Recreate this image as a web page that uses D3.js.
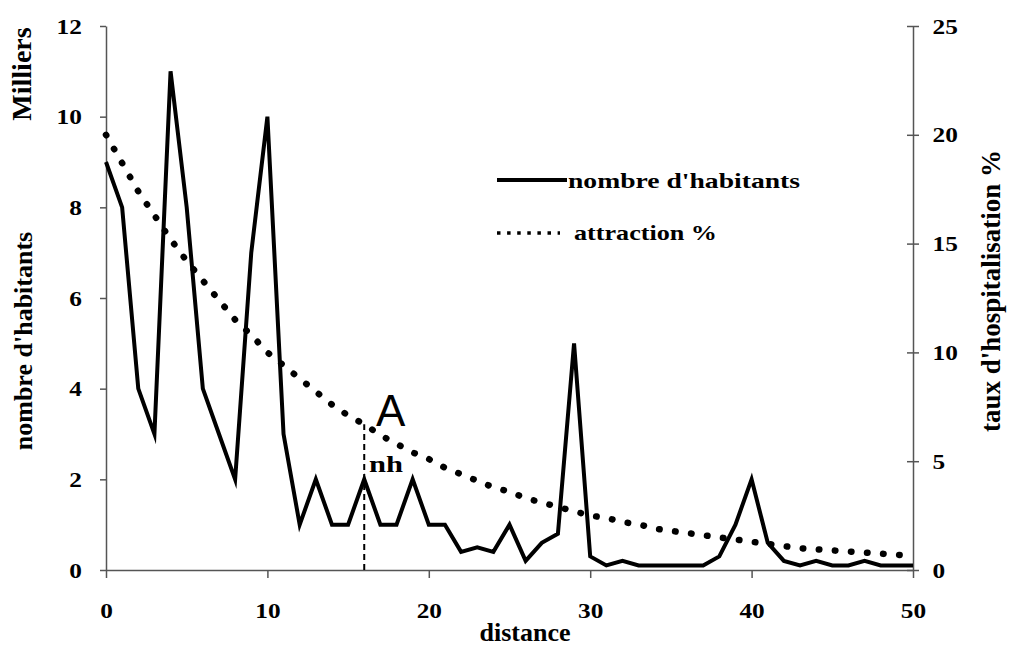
<!DOCTYPE html>
<html><head><meta charset="utf-8">
<script src="https://cdn.jsdelivr.net/npm/d3@7"></script>
<style>body{margin:0;background:#fff}svg{display:block}
.serif{font-family:"Liberation Serif","Times New Roman",serif;font-weight:bold}</style>
</head><body>
<svg id="c" width="1010" height="649"></svg>
<script>
const distance = d3.range(0, 51);
const habitants = [9,8,4,3,11,8,4,3,2,7,10,3,1,2,1,1,2,1,1,2,1,1,0.4,0.5,0.4,1,0.2,0.6,0.8,5,0.3,0.1,0.2,0.1,0.1,0.1,0.1,0.1,0.3,1,2,0.6,0.2,0.1,0.2,0.1,0.1,0.2,0.1,0.1,0.1];
const attraction = [20.0,18.7,17.4,16.3,15.2,14.2,13.3,12.4,11.5,10.8,10.0,9.4,8.8,8.2,7.6,7.1,6.7,6.2,5.8,5.4,5.1,4.7,4.4,4.1,3.8,3.6,3.3,3.1,2.9,2.7,2.5,2.4,2.2,2.1,1.9,1.8,1.7,1.6,1.5,1.4,1.3,1.2,1.1,1.0,0.95,0.9,0.85,0.8,0.75,0.7,0.65];
const xTicks = [0,10,20,30,40,50];
const yLeftTicks = [0,2,4,6,8,10,12];
const yRightTicks = [0,5,10,15,20,25];
const markerX = 16;

const svg = d3.select("#c");
const x = d3.scaleLinear().domain([0,50]).range([106,913]);
const yL = d3.scaleLinear().domain([0,12]).range([570,26]);
const yR = d3.scaleLinear().domain([0,25]).range([570,26]);
const axisColor = "#555";

function styleAxis(g){
  g.attr("font-family", null).attr("font-size", null);
  g.select(".domain").attr("stroke", axisColor).attr("stroke-width", 1.5);
  g.selectAll(".tick line").attr("stroke", axisColor).attr("stroke-width", 1.5);
  g.selectAll(".tick text").attr("class","serif").style("font-size","22px").attr("fill","#000");
}

const gx = svg.append("g").attr("transform","translate(0,570)")
  .call(d3.axisBottom(x).tickValues(xTicks).tickSize(8).tickPadding(24).tickSizeOuter(0));
styleAxis(gx);
gx.selectAll(".tick text").attr("transform","scale(1.15,1)");

const gl = svg.append("g").attr("transform","translate(106,0)")
  .call(d3.axisLeft(yL).tickValues(yLeftTicks).tickSize(6).tickPadding(15).tickSizeOuter(0));
styleAxis(gl);
gl.selectAll(".tick text").attr("transform","scale(1.15,1)");

const gr = svg.append("g").attr("transform","translate(913,0)")
  .call(d3.axisRight(yR).tickValues(yRightTicks).tickSize(6).tickPadding(11).tickSizeOuter(0));
styleAxis(gr);
gr.selectAll(".tick line").attr("x1",-6).attr("x2",6);
gr.selectAll(".tick text").attr("transform","scale(1.15,1)");

const lineR = d3.line().x((d,i)=>x(distance[i])).y(d=>yR(d));
svg.append("path").datum(attraction).attr("d", lineR)
  .attr("fill","none").attr("stroke","#000").attr("stroke-width",6.5)
  .attr("stroke-linecap","round").attr("stroke-dasharray","0.5,15.6");

const lineL = d3.line().x((d,i)=>x(distance[i])).y(d=>yL(d));
svg.append("path").datum(habitants).attr("d", lineL)
  .attr("fill","none").attr("stroke","#000").attr("stroke-width",4)
  .attr("stroke-linejoin","miter").attr("stroke-miterlimit",10);

svg.append("line").attr("x1",x(markerX)).attr("x2",x(markerX))
  .attr("y1",yL(0)).attr("y2",yR(attraction[markerX]))
  .attr("stroke","#000").attr("stroke-width",2).attr("stroke-dasharray","6,4");

svg.append("text").attr("x",376).attr("y",426).text("A")
  .style("font-family","'Liberation Sans',Arial,sans-serif").style("font-size","44px").attr("fill","#000");
svg.append("text").attr("class","serif").attr("x",369).attr("y",472).text("nh")
  .style("font-size","24px")
  .attr("textLength",34).attr("lengthAdjust","spacingAndGlyphs");

svg.append("line").attr("x1",497).attr("x2",567).attr("y1",180).attr("y2",180)
  .attr("stroke","#000").attr("stroke-width",4);
svg.append("text").attr("class","serif").attr("x",568).attr("y",188).text("nombre d'habitants")
  .style("font-size","22px")
  .attr("textLength",232).attr("lengthAdjust","spacingAndGlyphs");
svg.append("line").attr("x1",497).attr("x2",560).attr("y1",233).attr("y2",233)
  .attr("stroke","#000").attr("stroke-width",3.5).attr("stroke-dasharray","3.5,6.6");
svg.append("text").attr("class","serif").attr("x",574).attr("y",240).text("attraction %")
  .style("font-size","22px")
  .attr("textLength",143).attr("lengthAdjust","spacingAndGlyphs");

function vtitle(t, xb, yc, fs){
  svg.append("text").attr("class","serif").attr("transform",`translate(${xb},${yc}) rotate(-90)`)
    .attr("text-anchor","middle").text(t).style("font-size", fs+"px");
}
vtitle("Milliers", 31, 74, 28);
vtitle("nombre d'habitants", 32, 341, 26);
vtitle("taux d'hospitalisation %", 1000, 291, 27);

svg.append("text").attr("class","serif").attr("x",525).attr("y",641).attr("text-anchor","middle").text("distance")
  .style("font-size","26px");
</script>
</body></html>
